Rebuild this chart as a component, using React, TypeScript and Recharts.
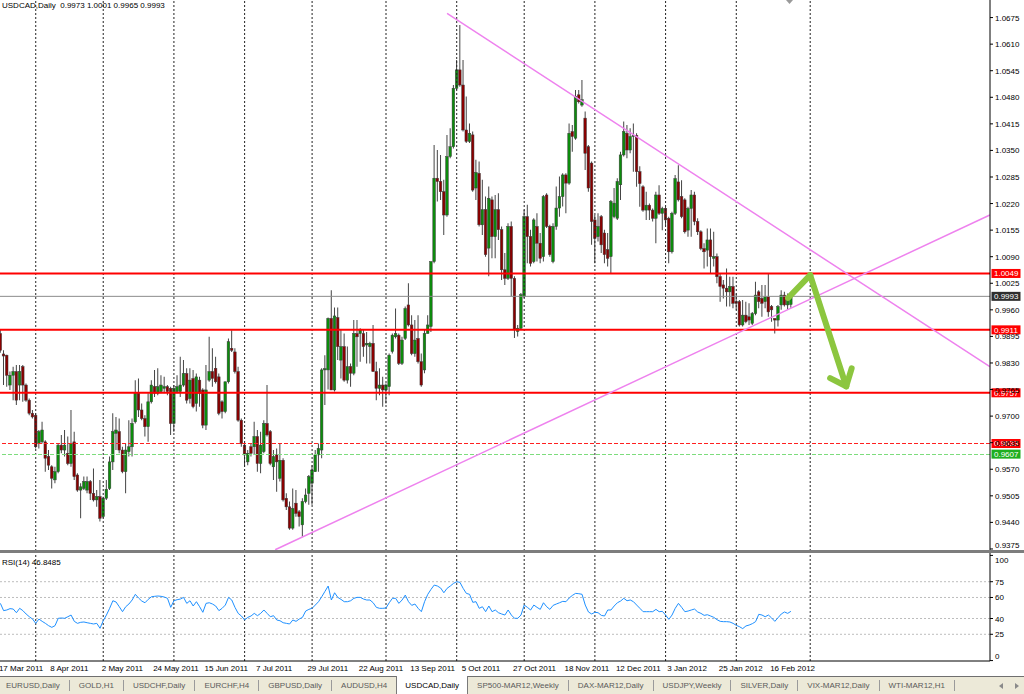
import {
  ComposedChart,
  Bar,
  Line,
  XAxis,
  YAxis,
  ReferenceLine,
} from 'recharts';

const FONT = '"Liberation Sans", Arial, sans-serif';
const BULL = '#0c8c0c';
const BEAR = '#8a0000';
const RED = '#ff0000';
const VIOLET = '#ee82ee';
const ARROW_GREEN = '#8cc63f';

// USDCAD daily bars, index 0 = 17 Mar 2011 ... 246 = 24 Feb 2012
const OPEN = [
  0.9902, 0.9852, 0.9849, 0.9776, 0.9800, 0.9809, 0.9776, 0.9821, 0.9776, 0.9739,
  0.9707, 0.9702, 0.9633, 0.9637, 0.9637, 0.9601, 0.9576, 0.9544, 0.9564, 0.9629,
  0.9617, 0.9609, 0.9584, 0.9637, 0.9556, 0.9519, 0.9523, 0.9519, 0.9540, 0.9511,
  0.9495, 0.9503, 0.9454, 0.9499, 0.9523, 0.9588, 0.9658, 0.9662, 0.9617, 0.9564,
  0.9613, 0.9625, 0.9686, 0.9756, 0.9715, 0.9694, 0.9674, 0.9735, 0.9772, 0.9756,
  0.9760, 0.9768, 0.9772, 0.9768, 0.9682, 0.9760, 0.9760, 0.9776, 0.9804, 0.9743,
  0.9792, 0.9731, 0.9788, 0.9764, 0.9678, 0.9788, 0.9809, 0.9817, 0.9796, 0.9735,
  0.9711, 0.9784, 0.9866, 0.9857, 0.9809, 0.9690, 0.9629, 0.9588, 0.9625, 0.9625,
  0.9650, 0.9584, 0.9613, 0.9682, 0.9662, 0.9576, 0.9605, 0.9548, 0.9592, 0.9499,
  0.9478, 0.9426, 0.9487, 0.9466, 0.9434, 0.9491, 0.9511, 0.9536, 0.9564, 0.9605,
  0.9617, 0.9813, 0.9813, 0.9939, 0.9764, 0.9941, 0.9837, 0.9870, 0.9788, 0.9821,
  0.9805, 0.9902, 0.9902, 0.9902, 0.9874, 0.9870, 0.9878, 0.9809, 0.9768, 0.9776,
  0.9764, 0.9772, 0.9858, 0.9894, 0.9898, 0.9829, 0.9890, 0.9972, 0.9923, 0.9853,
  0.9890, 0.9833, 0.9813, 0.9902, 0.9919, 1.0078, 1.0282, 1.0274, 1.0249, 1.0192,
  1.0335, 1.0359, 1.0502, 1.0547, 1.0510, 1.0400, 1.0372, 1.0388, 1.0258, 1.0294,
  1.0168, 1.0205, 1.0111, 1.0229, 1.0139, 1.0205, 1.0156, 1.0058, 1.0037, 1.0164,
  1.0037, 0.9907, 0.9915, 0.9993, 1.0188, 1.0139, 1.0078, 1.0164, 1.0123, 1.0090,
  1.0241, 1.0164, 1.0078, 1.0164, 1.0209, 1.0237, 1.0290, 1.0270, 1.0396, 1.0380,
  1.0486, 1.0461, 1.0429, 1.0359, 1.0319, 1.0180, 1.0139, 1.0188, 1.0148, 1.0107,
  1.0090, 1.0188, 1.0184, 1.0266, 1.0339, 1.0392, 1.0351, 1.0384, 1.0387, 1.0298,
  1.0261, 1.0204, 1.0216, 1.0204, 1.0184, 1.0241, 1.0196, 1.0208, 1.0184, 1.0102,
  1.0196, 1.0273, 1.0237, 1.0229, 1.0155, 1.0208, 1.0241, 1.0176, 1.0151, 1.0110,
  1.0106, 1.0131, 1.0086, 1.0090, 1.0041, 1.0021, 1.0013, 1.0004, 1.0017, 0.9980,
  0.9980, 0.9923, 0.9947, 0.9943, 0.9927, 0.9951, 1.0004, 0.9988, 0.9980, 0.9992,
  0.9968, 0.9939, 0.9935, 0.9972, 0.9996, 0.9972, 0.9973,
];

const HIGH = [
  0.9912, 0.9861, 0.9850, 0.9809, 0.9821, 0.9825, 0.9825, 0.9825, 0.9780, 0.9743,
  0.9715, 0.9707, 0.9666, 0.9686, 0.9641, 0.9617, 0.9580, 0.9576, 0.9633, 0.9654,
  0.9666, 0.9650, 0.9715, 0.9662, 0.9560, 0.9536, 0.9552, 0.9552, 0.9544, 0.9572,
  0.9519, 0.9544, 0.9503, 0.9544, 0.9601, 0.9707, 0.9698, 0.9694, 0.9625, 0.9633,
  0.9690, 0.9694, 0.9788, 0.9792, 0.9731, 0.9702, 0.9756, 0.9788, 0.9813, 0.9817,
  0.9800, 0.9796, 0.9776, 0.9772, 0.9776, 0.9800, 0.9845, 0.9837, 0.9817, 0.9817,
  0.9813, 0.9804, 0.9796, 0.9768, 0.9825, 0.9894, 0.9866, 0.9845, 0.9804, 0.9739,
  0.9784, 0.9890, 0.9910, 0.9866, 0.9821, 0.9694, 0.9633, 0.9617, 0.9633, 0.9686,
  0.9666, 0.9662, 0.9690, 0.9776, 0.9666, 0.9617, 0.9621, 0.9633, 0.9597, 0.9511,
  0.9491, 0.9523, 0.9519, 0.9470, 0.9499, 0.9523, 0.9556, 0.9580, 0.9617, 0.9633,
  0.9817, 0.9849, 0.9941, 1.0008, 0.9966, 0.9966, 0.9911, 0.9902, 0.9870, 0.9829,
  0.9935, 0.9935, 0.9915, 0.9911, 0.9906, 0.9882, 0.9923, 0.9833, 0.9817, 0.9796,
  0.9780, 0.9853, 0.9902, 0.9963, 0.9902, 0.9894, 0.9968, 1.0025, 0.9947, 0.9935,
  0.9947, 0.9853, 0.9911, 0.9947, 1.0078, 1.0363, 1.0351, 1.0339, 1.0278, 1.0388,
  1.0404, 1.0510, 1.0571, 1.0657, 1.0571, 1.0482, 1.0416, 1.0396, 1.0327, 1.0323,
  1.0278, 1.0237, 1.0262, 1.0237, 1.0241, 1.0245, 1.0164, 1.0099, 1.0172, 1.0176,
  1.0042, 0.9923, 1.0001, 1.0205, 1.0217, 1.0156, 1.0184, 1.0196, 1.0148, 1.0241,
  1.0245, 1.0168, 1.0172, 1.0262, 1.0286, 1.0294, 1.0294, 1.0416, 1.0412, 1.0498,
  1.0498, 1.0522, 1.0445, 1.0363, 1.0323, 1.0192, 1.0196, 1.0192, 1.0156, 1.0148,
  1.0229, 1.0258, 1.0282, 1.0347, 1.0421, 1.0412, 1.0404, 1.0416, 1.0392, 1.0311,
  1.0265, 1.0249, 1.0220, 1.0208, 1.0249, 1.0265, 1.0212, 1.0212, 1.0188, 1.0200,
  1.0290, 1.0314, 1.0277, 1.0233, 1.0212, 1.0253, 1.0249, 1.0184, 1.0155, 1.0123,
  1.0159, 1.0159, 1.0151, 1.0098, 1.0049, 1.0033, 1.0061, 1.0041, 1.0041, 1.0000,
  0.9984, 0.9984, 0.9980, 0.9976, 0.9955, 1.0029, 1.0008, 1.0021, 1.0021, 1.0049,
  0.9972, 0.9939, 0.9972, 1.0008, 1.0004, 1.0000, 1.0001,
];

const LOW = [
  0.9855, 0.9776, 0.9772, 0.9764, 0.9739, 0.9727, 0.9739, 0.9735, 0.9735, 0.9702,
  0.9694, 0.9621, 0.9621, 0.9633, 0.9564, 0.9568, 0.9523, 0.9536, 0.9560, 0.9609,
  0.9601, 0.9580, 0.9576, 0.9544, 0.9515, 0.9450, 0.9519, 0.9511, 0.9495, 0.9491,
  0.9478, 0.9442, 0.9450, 0.9495, 0.9519, 0.9568, 0.9617, 0.9609, 0.9560, 0.9511,
  0.9601, 0.9601, 0.9682, 0.9698, 0.9690, 0.9650, 0.9637, 0.9731, 0.9747, 0.9751,
  0.9756, 0.9756, 0.9751, 0.9654, 0.9662, 0.9756, 0.9747, 0.9772, 0.9731, 0.9731,
  0.9719, 0.9711, 0.9723, 0.9670, 0.9666, 0.9784, 0.9772, 0.9780, 0.9702, 0.9694,
  0.9707, 0.9780, 0.9857, 0.9804, 0.9686, 0.9625, 0.9576, 0.9580, 0.9601, 0.9605,
  0.9564, 0.9560, 0.9609, 0.9650, 0.9580, 0.9544, 0.9515, 0.9540, 0.9491, 0.9470,
  0.9422, 0.9422, 0.9454, 0.9430, 0.9405, 0.9487, 0.9483, 0.9483, 0.9564, 0.9564,
  0.9597, 0.9727, 0.9765, 0.9764, 0.9760, 0.9837, 0.9792, 0.9784, 0.9780, 0.9772,
  0.9800, 0.9821, 0.9833, 0.9845, 0.9829, 0.9829, 0.9809, 0.9739, 0.9751, 0.9723,
  0.9731, 0.9751, 0.9853, 0.9890, 0.9825, 0.9825, 0.9886, 0.9919, 0.9849, 0.9845,
  0.9829, 0.9772, 0.9805, 0.9902, 0.9906, 1.0074, 1.0225, 1.0229, 1.0143, 1.0188,
  1.0331, 1.0355, 1.0498, 1.0506, 1.0396, 1.0368, 1.0368, 1.0249, 1.0229, 1.0164,
  1.0143, 1.0090, 1.0042, 1.0086, 1.0086, 1.0131, 1.0033, 1.0021, 1.0033, 0.9993,
  0.9891, 0.9895, 0.9911, 0.9989, 1.0074, 1.0066, 1.0074, 1.0078, 1.0074, 1.0078,
  1.0160, 1.0090, 1.0074, 1.0156, 1.0188, 1.0213, 1.0196, 1.0266, 1.0347, 1.0376,
  1.0465, 1.0457, 1.0302, 1.0249, 1.0119, 1.0074, 1.0127, 1.0099, 1.0074, 1.0066,
  1.0050, 1.0184, 1.0180, 1.0229, 1.0335, 1.0331, 1.0343, 1.0298, 1.0261, 1.0212,
  1.0200, 1.0180, 1.0180, 1.0176, 1.0123, 1.0192, 1.0155, 1.0167, 1.0074, 1.0098,
  1.0192, 1.0225, 1.0184, 1.0147, 1.0139, 1.0139, 1.0167, 1.0143, 1.0106, 1.0061,
  1.0066, 1.0049, 1.0066, 1.0025, 0.9980, 0.9988, 0.9968, 0.9968, 0.9964, 0.9960,
  0.9919, 0.9919, 0.9927, 0.9923, 0.9923, 0.9947, 0.9964, 0.9943, 0.9964, 0.9943,
  0.9931, 0.9902, 0.9919, 0.9960, 0.9968, 0.9960, 0.9965,
];

const CLOSE = [
  0.9861, 0.9847, 0.9800, 0.9800, 0.9809, 0.9739, 0.9809, 0.9776, 0.9739, 0.9707,
  0.9698, 0.9625, 0.9662, 0.9666, 0.9597, 0.9580, 0.9548, 0.9564, 0.9629, 0.9617,
  0.9629, 0.9584, 0.9633, 0.9552, 0.9519, 0.9527, 0.9540, 0.9540, 0.9511, 0.9495,
  0.9503, 0.9450, 0.9499, 0.9521, 0.9588, 0.9662, 0.9666, 0.9617, 0.9564, 0.9617,
  0.9625, 0.9682, 0.9756, 0.9715, 0.9694, 0.9674, 0.9735, 0.9776, 0.9756, 0.9772,
  0.9776, 0.9772, 0.9760, 0.9682, 0.9768, 0.9772, 0.9776, 0.9804, 0.9739, 0.9788,
  0.9723, 0.9796, 0.9756, 0.9678, 0.9764, 0.9809, 0.9792, 0.9784, 0.9707, 0.9711,
  0.9784, 0.9882, 0.9861, 0.9809, 0.9690, 0.9633, 0.9605, 0.9609, 0.9609, 0.9650,
  0.9584, 0.9629, 0.9682, 0.9654, 0.9584, 0.9601, 0.9588, 0.9592, 0.9495, 0.9478,
  0.9426, 0.9474, 0.9462, 0.9454, 0.9491, 0.9507, 0.9552, 0.9568, 0.9605, 0.9621,
  0.9813, 0.9816, 0.9939, 0.9764, 0.9945, 0.9870, 0.9870, 0.9788, 0.9821, 0.9805,
  0.9902, 0.9894, 0.9911, 0.9870, 0.9878, 0.9878, 0.9809, 0.9768, 0.9776, 0.9764,
  0.9776, 0.9849, 0.9898, 0.9902, 0.9829, 0.9886, 0.9963, 0.9923, 0.9853, 0.9886,
  0.9833, 0.9776, 0.9902, 0.9923, 1.0078, 1.0282, 1.0274, 1.0249, 1.0192, 1.0335,
  1.0359, 1.0502, 1.0547, 1.0510, 1.0400, 1.0372, 1.0392, 1.0253, 1.0296, 1.0168,
  1.0205, 1.0095, 1.0233, 1.0139, 1.0205, 1.0156, 1.0058, 1.0037, 1.0164, 1.0037,
  0.9911, 0.9915, 0.9997, 1.0188, 1.0139, 1.0074, 1.0180, 1.0123, 1.0086, 1.0237,
  1.0164, 1.0095, 1.0164, 1.0209, 1.0237, 1.0290, 1.0270, 1.0392, 1.0384, 1.0482,
  1.0469, 1.0474, 1.0343, 1.0258, 1.0176, 1.0135, 1.0164, 1.0119, 1.0095, 1.0086,
  1.0225, 1.0221, 1.0274, 1.0339, 1.0396, 1.0351, 1.0384, 1.0387, 1.0298, 1.0269,
  1.0204, 1.0216, 1.0204, 1.0184, 1.0241, 1.0196, 1.0208, 1.0180, 1.0102, 1.0196,
  1.0281, 1.0229, 1.0188, 1.0151, 1.0208, 1.0241, 1.0176, 1.0151, 1.0110, 1.0102,
  1.0131, 1.0090, 1.0090, 1.0041, 1.0017, 1.0013, 1.0004, 1.0017, 0.9976, 0.9976,
  0.9923, 0.9947, 0.9931, 0.9935, 0.9951, 0.9996, 0.9980, 0.9976, 0.9992, 0.9955,
  0.9960, 0.9935, 0.9968, 0.9996, 0.9972, 0.9984, 0.9993,
];

const RSI = [
  54.4, 47.5, 48.1, 49.4, 49.0, 45.5, 49.7, 47.5, 44.3, 41.7,
  39.5, 35.4, 39.5, 37.3, 35.4, 33.2, 31.6, 33.2, 40.2, 40.5,
  40.2, 41.7, 43.3, 37.3, 35.4, 36.4, 36.7, 36.0, 35.4, 34.8,
  35.4, 30.7, 37.9, 43.3, 49.7, 56.9, 55.7, 51.2, 46.5, 51.2,
  53.8, 57.6, 63.0, 59.5, 56.6, 55.0, 58.2, 60.7, 61.1, 61.4,
  61.1, 60.4, 59.2, 50.6, 56.9, 57.9, 58.5, 60.1, 54.4, 56.9,
  51.9, 56.0, 51.2, 45.9, 54.4, 55.0, 53.8, 51.9, 47.5, 49.7,
  52.8, 60.1, 57.6, 50.6, 44.9, 42.4, 38.6, 41.1, 42.4, 44.9,
  42.7, 44.9, 48.1, 44.9, 41.7, 42.7, 38.6, 37.9, 36.0, 35.4,
  34.8, 38.6, 37.3, 39.5, 41.1, 47.1, 48.7, 49.7, 52.8, 56.0,
  60.7, 65.8, 70.9, 57.6, 64.5, 60.1, 58.2, 56.0, 56.0, 56.9,
  59.2, 60.1, 60.1, 58.5, 57.6, 57.6, 55.0, 50.6, 49.7, 49.7,
  50.0, 55.0, 59.2, 59.2, 54.4, 57.6, 62.3, 56.0, 52.5, 53.8,
  49.7, 46.5, 56.0, 63.0, 67.7, 71.8, 70.9, 69.0, 64.5, 68.7,
  70.9, 73.4, 75.0, 74.4, 68.7, 63.9, 63.0, 55.4, 56.0, 49.7,
  51.2, 46.5, 51.9, 46.5, 48.1, 45.5, 44.3, 43.3, 48.1, 43.3,
  40.2, 40.2, 43.3, 52.8, 50.6, 48.1, 52.8, 50.6, 48.7, 55.0,
  51.2, 48.7, 52.5, 53.8, 55.0, 56.3, 56.0, 59.5, 62.0, 63.9,
  63.6, 63.0, 52.8, 46.2, 44.3, 45.9, 45.5, 43.0, 42.4, 48.1,
  48.1, 51.9, 55.0, 56.6, 59.2, 56.9, 57.6, 56.0, 52.8, 49.7,
  46.5, 46.5, 46.5, 46.5, 48.7, 46.5, 46.8, 43.3, 39.2, 43.3,
  49.7, 54.4, 50.6, 46.5, 47.1, 48.1, 49.0, 46.2, 44.9, 43.0,
  43.6, 42.4, 41.1, 38.9, 37.3, 37.0, 37.0, 36.7, 35.4, 33.5,
  32.2, 30.4, 32.9, 33.8, 35.1, 37.0, 44.0, 43.3, 41.7, 43.3,
  40.5, 37.3, 40.8, 44.3, 46.2, 44.9, 46.8485,
];

const DATE_TICKS = [0, 16, 32, 48, 64, 80, 96, 112, 128, 144, 160, 176, 192, 208, 224, 240];
const DATE_LABELS = [
  '17 Mar 2011', '8 Apr 2011', '2 May 2011', '24 May 2011', '15 Jun 2011', '7 Jul 2011',
  '29 Jul 2011', '22 Aug 2011', '13 Sep 2011', '5 Oct 2011', '27 Oct 2011', '18 Nov 2011',
  '12 Dec 2011', '3 Jan 2012', '25 Jan 2012', '16 Feb 2012',
];
// first bar of each month (period separators)
const MONTH_STARTS = [11, 32, 54, 76, 97, 120, 142, 163, 185, 207, 229, 252];

const PRICE_TICKS = [
  0.9375, 0.944, 0.9505, 0.957, 0.9635, 0.97, 0.9765, 0.983, 0.9895, 0.996, 1.0025,
  1.009, 1.0155, 1.022, 1.0285, 1.035, 1.0415, 1.048, 1.0545, 1.061, 1.0675,
];
const RSI_TICKS = [0, 25, 40, 60, 75, 100];
const RSI_LEVELS = [25, 40, 60, 75];

const RESISTANCE = 1.0049;
const SUPPORT_1 = 0.9911;
const SUPPORT_2 = 0.9757;
const BID = 0.9993;
const ALERT_RED = 0.9633;
const ALERT_GREEN = 0.9607;

const TREND_DOWN = [{ x: 139, y: 1.0685 }, { x: 307.9, y: 0.9821 }];
const TREND_UP = [{ x: 85.5, y: 0.9373 }, { x: 307.9, y: 1.0192 }];
const ARROW_PATH = [{ x: 245.1, y: 0.9989 }, { x: 252, y: 1.0045 }, { x: 263.2, y: 0.9773 }];
const ARROW_HEAD = [{ x: 258.2, y: 0.9793 }, { x: 263.2, y: 0.9773 }, { x: 264.9, y: 0.9817 }];

const TABS = [
  'EURUSD,Daily', 'GOLD,H1', 'USDCHF,Daily', 'EURCHF,H4', 'GBPUSD,Daily', 'AUDUSD,H4',
  'USDCAD,Daily', 'SP500-MAR12,Weekly', 'DAX-MAR12,Daily', 'USDJPY,Weekly', 'SILVER,Daily',
  'VIX-MAR12,Daily', 'WTI-MAR12,H1',
];
const ACTIVE_TAB = 'USDCAD,Daily';

const X_DOMAIN: [number, number] = [-0.12, 307.95];
const PRICE_DOMAIN: [number, number] = [0.937, 1.0718];
const RSI_DOMAIN: [number, number] = [-0.4, 102.3];

const rows = CLOSE.map((c, i) => ({ i, o: OPEN[i], h: HIGH[i], l: LOW[i], c, rsi: RSI[i] }));

const wickRange = (d: any) => [d.l, d.h];
const bodyRange = (d: any) => [Math.min(d.o, d.c), Math.max(d.o, d.c)];

function CandleBody(props: any) {
  const { x, y, width, height, payload } = props;
  if (x == null || y == null || !payload) return null;
  const cx = x + width / 2;
  const top = Math.min(y, y + height);
  const h = Math.max(Math.abs(height), 1);
  const up = payload.c >= payload.o;
  return (
    <rect
      x={cx - 1.3}
      y={top}
      width={2.6}
      height={h}
      fill={up ? BULL : BEAR}
      stroke="#3a3a3a"
      strokeWidth={0.5}
    />
  );
}

function Tag(props: any) {
  const { viewBox, text, bg } = props;
  if (!viewBox) return null;
  const x = viewBox.x + viewBox.width + 1.5;
  const y = viewBox.y;
  return (
    <g>
      <rect x={x} y={y - 4.5} width={29} height={9} fill={bg} />
      <text x={x + 2.5} y={y + 3} fontSize={8} fontFamily={FONT} fill="#fff">
        {text}
      </text>
    </g>
  );
}

function PriceTick(props: any) {
  const { x, y, payload } = props;
  const cy = Math.min(y, 545);
  return (
    <text x={x} y={cy + 3} fontSize={8} fontFamily={FONT} fill="#000" textAnchor="start">
      {Number(payload.value).toFixed(4)}
    </text>
  );
}

function DateTick(props: any) {
  const { x, y, payload } = props;
  const k = DATE_TICKS.indexOf(payload.value);
  return (
    <text x={x - 1.5} y={y + 10} fontSize={8} fontFamily={FONT} fill="#000" textAnchor="start">
      {DATE_LABELS[k]}
    </text>
  );
}

function RsiTick(props: any) {
  const { x, y, payload } = props;
  const shift = payload.value === 100 ? 4.5 : payload.value === 0 ? -4.5 : 0;
  return (
    <text x={x} y={y + shift + 3} fontSize={8} fontFamily={FONT} fill="#000" textAnchor="start">
      {payload.value}
    </text>
  );
}

export default function App() {
  const segStyle = { stroke: ARROW_GREEN, strokeWidth: 6, strokeLinecap: 'round' as const };
  return (
    <div
      style={{
        position: 'absolute',
        left: 0,
        top: 0,
        width: 1024,
        height: 694,
        background: '#fff',
        overflow: 'hidden',
        fontFamily: FONT,
      }}
    >
      <div style={{ position: 'absolute', left: 0, top: 0 }}>
        <ComposedChart width={1024} height={551} data={rows} margin={{ top: 0, right: 0, bottom: 0, left: 0 }}>
          <XAxis xAxisId="w" type="number" dataKey="i" domain={X_DOMAIN} allowDataOverflow hide />
          <XAxis xAxisId="b" type="number" dataKey="i" domain={X_DOMAIN} allowDataOverflow hide />
          <YAxis
            orientation="right"
            width={34}
            domain={PRICE_DOMAIN}
            allowDataOverflow
            ticks={PRICE_TICKS}
            interval={0}
            tickSize={3}
            tickMargin={2}
            tick={<PriceTick />}
            axisLine={{ stroke: '#000' }}
            tickLine={{ stroke: '#000' }}
          />
          {MONTH_STARTS.map((m) => (
            <ReferenceLine key={'m' + m} xAxisId="w" x={m} stroke="#222" strokeDasharray="2 2" ifOverflow="visible" />
          ))}
          <ReferenceLine xAxisId="w" y={BID} stroke="#8c8c8c" strokeWidth={1} label={<Tag text="0.9993" bg="#2e2e2e" />} />
          <ReferenceLine
            xAxisId="w"
            y={ALERT_RED}
            stroke="#ff2020"
            strokeWidth={1.2}
            strokeDasharray="4 2"
            shapeRendering="crispEdges"
            label={<Tag text="0.9633" bg={RED} />}
          />
          <ReferenceLine
            xAxisId="w"
            y={ALERT_GREEN}
            stroke="#7ddc7d"
            strokeWidth={1.2}
            strokeDasharray="4 2"
            shapeRendering="crispEdges"
            label={<Tag text="0.9607" bg="#1fae1f" />}
          />
          <Bar xAxisId="w" dataKey={wickRange} barSize={1} fill="#444" isAnimationActive={false} />
          <Bar xAxisId="b" dataKey={bodyRange} barSize={3} shape={CandleBody} isAnimationActive={false} />
          <ReferenceLine xAxisId="w" y={RESISTANCE} stroke={RED} strokeWidth={2} label={<Tag text="1.0049" bg={RED} />} />
          <ReferenceLine xAxisId="w" y={SUPPORT_1} stroke={RED} strokeWidth={2} label={<Tag text="0.9911" bg={RED} />} />
          <ReferenceLine xAxisId="w" y={SUPPORT_2} stroke={RED} strokeWidth={2} label={<Tag text="0.9757" bg={RED} />} />
          <ReferenceLine xAxisId="w" segment={TREND_DOWN} stroke={VIOLET} strokeWidth={1.5} ifOverflow="visible" />
          <ReferenceLine xAxisId="w" segment={TREND_UP} stroke={VIOLET} strokeWidth={1.5} ifOverflow="visible" />
          <ReferenceLine xAxisId="w" segment={[ARROW_PATH[0], ARROW_PATH[1]]} {...segStyle} ifOverflow="visible" />
          <ReferenceLine xAxisId="w" segment={[ARROW_PATH[1], ARROW_PATH[2]]} {...segStyle} ifOverflow="visible" />
          <ReferenceLine xAxisId="w" segment={[ARROW_HEAD[0], ARROW_HEAD[1]]} {...segStyle} ifOverflow="visible" />
          <ReferenceLine xAxisId="w" segment={[ARROW_HEAD[2], ARROW_HEAD[1]]} {...segStyle} ifOverflow="visible" />
        </ComposedChart>
      </div>

      <div style={{ position: 'absolute', left: 2, top: 1, fontSize: 8, lineHeight: '10px', whiteSpace: 'pre', color: '#000' }}>
        {'USDCAD,Daily  0.9973 1.0001 0.9965 0.9993'}
      </div>
      <svg style={{ position: 'absolute', left: 786, top: 0 }} width={8} height={5}>
        <polygon points="0,0 7,0 3.5,4" fill="#9a9a9a" />
      </svg>

      <div style={{ position: 'absolute', left: 0, top: 550, width: 1024, height: 3, background: '#7d7d7d' }} />

      <div style={{ position: 'absolute', left: 0, top: 553 }}>
        <ComposedChart width={1024} height={123} data={rows} margin={{ top: 0, right: 0, bottom: 0, left: 0 }}>
          <XAxis
            type="number"
            dataKey="i"
            domain={X_DOMAIN}
            allowDataOverflow
            ticks={DATE_TICKS}
            interval={0}
            height={15}
            tickLine={false}
            tickSize={0}
            tickMargin={0}
            axisLine={{ stroke: '#000' }}
            tick={<DateTick />}
          />
          <YAxis
            orientation="right"
            width={34}
            domain={RSI_DOMAIN}
            allowDataOverflow
            ticks={RSI_TICKS}
            interval={0}
            tickSize={3}
            tickMargin={2}
            tick={<RsiTick />}
            axisLine={{ stroke: '#000' }}
            tickLine={{ stroke: '#000' }}
          />
          {RSI_LEVELS.map((v) => (
            <ReferenceLine key={'r' + v} y={v} stroke="#bdbdbd" strokeDasharray="2 2" />
          ))}
          {MONTH_STARTS.map((m) => (
            <ReferenceLine key={'m' + m} x={m} stroke="#222" strokeDasharray="2 2" ifOverflow="visible" />
          ))}
          <Line dataKey="rsi" stroke="#1e90ff" strokeWidth={1} dot={false} isAnimationActive={false} />
        </ComposedChart>
      </div>
      <div style={{ position: 'absolute', left: 2, top: 558, fontSize: 8, lineHeight: '10px', color: '#000' }}>
        RSI(14) 46.8485
      </div>

      <div
        style={{
          position: 'absolute',
          left: 0,
          top: 676,
          width: 1024,
          height: 18,
          background: '#ece9d8',
          borderTop: '1px solid #6f6f6f',
          boxSizing: 'border-box',
          display: 'flex',
          alignItems: 'stretch',
          fontSize: 8,
        }}
      >
        {TABS.map((t, k) => {
          const active = t === ACTIVE_TAB;
          const showSep = !active && TABS[k + 1] !== ACTIVE_TAB;
          return (
            <div key={t} style={{ display: 'flex', alignItems: 'center', marginLeft: k === 0 ? -3 : 0 }}>
              <div
                style={{
                  height: active ? 18 : 17,
                  marginTop: active ? -1 : 0,
                  padding: active ? '0 8px' : '0 9px',
                  display: 'flex',
                  alignItems: 'center',
                  background: active ? '#fff' : 'transparent',
                  color: active ? '#000' : '#5a5a5a',
                  borderLeft: active ? '1px solid #7a7a7a' : 'none',
                  borderRight: active ? '1px solid #7a7a7a' : 'none',
                  boxSizing: 'border-box',
                  whiteSpace: 'pre',
                }}
              >
                {t}
              </div>
              {showSep && <div style={{ width: 1, height: 11, background: '#9a9a9a' }} />}
            </div>
          );
        })}
      </div>
      <svg style={{ position: 'absolute', left: 998, top: 682 }} width={24} height={8}>
        <polygon points="5,1 5,7 1,4" fill="#8a8a8a" />
        <polygon points="17,1 17,7 21,4" fill="#8a8a8a" />
      </svg>
    </div>
  );
}
